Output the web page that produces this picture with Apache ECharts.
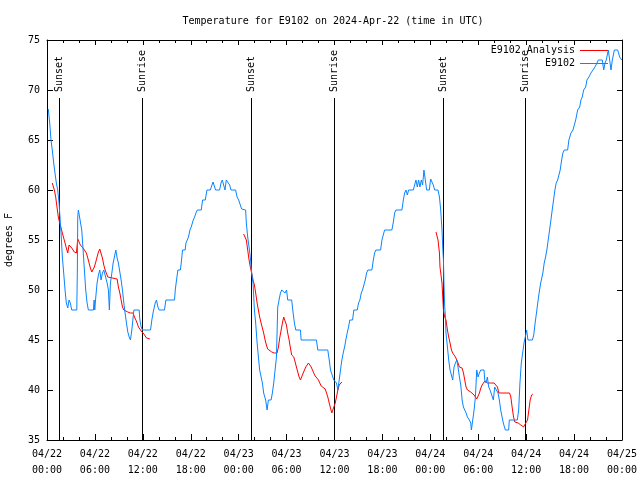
<!DOCTYPE html>
<html>
<head>
<meta charset="utf-8">
<script src="https://cdn.jsdelivr.net/npm/echarts@6/dist/echarts.min.js"></script>
<style>html,body{margin:0;padding:0;background:#fff}#c{width:640px;height:480px}</style>
</head>
<body>
<div id="c"></div>
<script>
// hours since 2024-04-22 00:00 UTC, temperature in degrees F
const xTickLabels = ['04/22\n00:00','04/22\n06:00','04/22\n12:00','04/22\n18:00','04/23\n00:00','04/23\n06:00','04/23\n12:00','04/23\n18:00','04/24\n00:00','04/24\n06:00','04/24\n12:00','04/24\n18:00','04/25\n00:00'];
const yTickLabels = ['35','40','45','50','55','60','65','70','75'];
const sunHours = [1.54, 11.93, 25.55, 35.92, 49.62, 59.9];
const sunLabels = ['Sunset','Sunrise','Sunset','Sunrise','Sunset','Sunrise'];

const observed = [
[0.16,68.1],[0.34,66.7],[0.50,65.0],[0.66,64.0],[0.84,62.7],[1.00,61.7],[1.17,60.7],[1.34,60.0],[1.51,58.7],[1.59,57.7],
[1.76,55.7],[1.92,53.3],[2.09,51.7],[2.26,50.0],[2.42,48.7],[2.60,48.2],[2.76,49.0],[2.92,48.7],[3.10,48.0],[3.73,48.0],
[3.80,52.0],[3.85,57.3],[3.93,58.0],[4.18,58.0],[4.35,56.0],[4.52,54.0],[4.68,52.0],[4.85,50.0],[5.02,48.7],[5.18,48.0],
[5.81,48.0],[5.90,49.0],[5.98,48.0],[6.11,49.3],[6.27,50.7],[6.44,51.5],[6.61,52.0],[6.77,51.0],[6.94,51.7],[7.11,52.0],
[7.36,51.8],[7.53,50.7],[7.69,50.0],[7.81,48.0],[7.94,50.7],[8.12,51.7],[8.28,52.7],[8.44,53.3],[8.62,54.0],[8.78,53.2],
[8.94,52.7],[9.12,51.8],[9.28,51.0],[9.45,50.0],[9.62,48.7],[9.78,47.7],[9.95,46.7],[10.12,45.8],[10.29,45.3],[10.45,45.0],
[10.62,46.0],[10.79,47.3],[10.88,48.0],[11.54,48.0],[11.63,47.0],[11.79,46.3],[11.95,46.0],[12.96,46.0],[13.13,47.0],[13.30,47.8],
[13.55,48.7],[13.71,49.0],[13.89,48.3],[14.05,48.0],[14.71,48.0],[14.89,49.0],[15.97,49.0],[16.06,50.0],[16.22,51.0],[16.39,52.0],
[16.70,52.0],[16.81,52.7],[16.97,54.0],[17.30,54.0],[17.40,54.7],[17.56,55.0],[17.72,55.3],[17.90,56.0],[18.06,56.3],[18.31,57.0],
[18.48,57.3],[18.65,57.7],[18.82,58.0],[19.32,58.0],[19.48,59.0],[19.82,59.0],[20.03,60.0],[20.45,60.0],[20.79,60.8],[20.95,61.0],
[21.11,60.0],[21.61,60.0],[21.79,60.7],[21.95,61.0],[22.12,60.5],[22.29,60.0],[22.45,61.0],[22.70,61.0],[22.87,60.5],[23.04,60.0],
[23.62,60.0],[23.80,59.3],[24.00,59.0],[24.21,59.0],[24.37,58.1],[24.87,58.0],[24.96,56.7],[25.13,55.3],[25.30,54.3],[25.46,53.3],
[25.63,51.7],[25.80,50.7],[25.97,48.0],[26.13,46.7],[26.31,44.7],[26.47,43.3],[26.63,42.0],[26.81,41.3],[26.97,40.7],[27.13,39.7],
[27.38,39.0],[27.56,38.0],[27.72,39.0],[28.06,39.0],[28.22,39.7],[28.39,40.7],[28.56,42.0],[28.73,43.3],[28.89,48.3],[29.06,49.0],
[29.23,49.7],[29.39,50.0],[29.60,50.0],[29.80,49.7],[30.00,50.0],[30.14,49.0],[30.64,49.0],[30.82,47.7],[30.98,46.7],[31.15,46.0],
[31.74,46.0],[31.82,45.0],[33.74,45.0],[33.91,44.0],[35.16,44.0],[35.34,43.0],[35.50,42.0],[35.75,42.0],[35.91,41.0],[36.10,41.0],
[36.25,40.7],[36.42,40.0],[36.59,41.0],[36.75,42.0],[36.92,43.0],[37.09,43.7],[37.26,44.3],[37.42,45.0],[37.59,45.7],[37.76,46.3],
[37.92,47.0],[38.26,47.0],[38.42,48.0],[38.85,48.0],[39.01,48.7],[39.18,49.0],[39.35,49.7],[39.51,50.0],[39.68,50.0],[39.85,51.0],
[40.02,51.7],[40.18,52.0],[40.68,52.0],[40.86,53.0],[41.02,53.7],[41.18,54.0],[41.77,54.0],[41.94,55.0],[42.10,55.2],[42.27,56.0],
[43.19,56.0],[43.37,56.8],[43.53,57.7],[43.69,58.0],[44.44,58.0],[44.62,59.0],[44.78,59.7],[44.95,60.0],[45.12,59.5],[45.28,60.0],
[45.87,60.0],[46.03,60.5],[46.20,61.0],[46.37,60.3],[46.53,61.0],[46.70,60.3],[46.87,61.0],[47.03,60.5],[47.20,62.0],[47.37,61.0],
[47.54,60.0],[47.87,60.0],[48.04,61.1],[48.20,61.0],[48.37,60.5],[48.55,60.0],[48.96,60.0],[49.14,59.3],[49.30,58.0],[49.46,56.0],
[49.55,54.3],[49.64,53.0],[49.71,50.5],[49.80,48.3],[49.89,47.3],[49.96,45.7],[50.14,44.3],[50.30,43.0],[50.47,42.0],[50.64,42.0],
[50.80,41.0],[50.97,42.3],[51.14,42.7],[51.31,43.0],[51.47,42.3],[51.64,41.3],[51.81,40.5],[51.98,39.0],[52.14,38.3],[52.31,38.0],
[52.48,37.7],[52.64,37.3],[52.89,37.0],[53.06,36.7],[53.14,36.0],[53.31,37.0],[53.48,38.0],[53.64,39.3],[53.73,40.7],[53.81,42.0],
[53.98,41.3],[54.14,41.7],[54.31,42.0],[54.72,42.0],[54.81,41.0],[54.98,40.7],[55.14,41.3],[55.31,40.3],[55.48,40.0],[55.73,40.0],
[55.89,39.0],[56.06,40.3],[56.31,40.3],[56.48,39.7],[56.64,39.0],[56.81,38.0],[56.98,37.3],[57.14,36.7],[57.39,36.0],[57.81,36.0],
[57.89,37.0],[58.89,37.0],[59.06,38.0],[59.22,40.7],[59.39,42.7],[59.56,43.7],[59.73,44.7],[59.89,45.3],[60.06,46.0],[60.22,45.0],
[60.78,45.0],[60.95,45.5],[61.12,46.7],[61.29,47.7],[61.45,48.7],[61.62,49.7],[61.82,50.7],[62.09,51.7],[62.26,52.7],[62.43,53.3],
[62.59,54.0],[62.76,55.0],[62.93,56.0],[63.10,57.0],[63.26,58.0],[63.43,59.0],[63.60,60.0],[63.76,60.7],[63.94,61.0],[64.26,62.0],
[64.44,63.0],[64.60,63.7],[64.77,64.0],[65.19,64.0],[65.35,65.0],[65.61,65.7],[65.86,66.0],[66.02,66.0],[66.20,67.0],[66.45,68.0],
[66.70,68.3],[66.86,69.0],[67.02,69.3],[67.20,70.0],[67.45,70.3],[67.61,71.0],[67.86,71.3],[68.11,71.7],[68.36,72.0],[68.61,72.3],
[68.87,72.7],[69.03,73.0],[69.53,73.0],[69.71,72.0],[69.87,72.7],[70.03,73.0],[70.21,73.7],[70.28,74.0],[70.46,73.0],[70.62,72.0],
[70.79,73.0],[71.04,74.0],[71.46,74.0],[71.71,73.3],[71.97,73.0]
];

const analysis1 = [
[0.66,60.7],[0.92,60.0],[1.09,59.3],[1.25,58.3],[1.42,57.3],[1.59,56.7],[1.76,56.2],[1.92,55.7],[2.09,55.2],[2.26,54.7],
[2.42,54.2],[2.60,53.7],[2.76,54.5],[3.10,54.2],[3.42,53.8],[3.68,53.7],[3.85,55.1],[4.18,54.5],[4.52,54.2],[4.77,54.2],
[4.93,53.7],[5.11,53.2],[5.27,52.7],[5.43,52.2],[5.61,51.8],[5.77,51.8],[5.93,52.3],[6.11,52.8],[6.27,53.3],[6.44,53.8],
[6.61,54.1],[6.77,54.1],[6.94,53.2],[7.11,52.5],[7.28,52.0],[7.61,51.3],[7.78,51.1],[8.78,51.1],[8.94,50.3],[9.12,49.7],
[9.28,49.0],[9.45,48.3],[9.62,48.0],[10.12,47.8],[10.45,47.7],[10.79,47.7],[10.95,47.3],[11.13,47.0],[11.29,46.7],[11.45,46.3],
[11.63,46.2],[11.79,45.9],[11.95,45.7],[12.13,45.6],[12.29,45.4],[12.46,45.2],[12.63,45.1],[12.88,45.1]
];
const analysis2 = [
[24.62,55.6],[24.87,55.6],[24.96,55.0],[25.13,54.0],[25.30,53.0],[25.46,52.3],[25.63,51.7],[25.80,51.0],[25.97,50.5],[26.13,49.7],
[26.31,48.7],[26.47,48.0],[26.63,47.3],[26.81,46.7],[26.97,46.2],[27.13,45.7],[27.31,45.0],[27.47,44.5],[27.63,44.1],[28.14,43.8],
[28.47,43.7],[28.81,43.7],[28.98,44.3],[29.14,45.2],[29.32,46.0],[29.48,46.7],[29.64,47.3],[29.82,47.3],[29.98,46.5],[30.14,45.7],
[30.32,45.0],[30.48,44.2],[30.64,43.5],[30.90,43.3],[31.07,42.8],[31.23,42.3],[31.40,41.8],[31.57,41.3],[31.74,41.0],[32.08,41.7],
[32.24,42.0],[32.40,42.3],[32.74,42.7],[32.90,42.6],[33.08,42.3],[33.24,42.0],[33.40,41.7],[33.58,41.4],[33.83,41.3],[33.99,41.0],
[34.16,40.7],[34.33,40.4],[34.50,40.2],[34.83,40.1],[35.00,39.7],[35.16,39.3],[35.34,38.7],[35.50,38.2],[35.66,37.7],[35.91,37.5],
[36.09,38.7],[36.25,39.3],[36.42,40.0],[36.59,40.5],[36.75,40.7],[36.92,40.8]
];
const analysis3 = [
[48.71,55.8],[48.92,55.8],[48.96,55.0],[49.14,53.7],[49.21,52.3],[49.30,52.3],[49.46,50.7],[49.64,48.0],[49.80,47.3],[49.96,47.0],
[50.14,46.0],[50.30,45.3],[50.47,44.7],[50.64,44.0],[50.80,43.7],[50.97,43.7],[51.14,43.3],[51.31,43.0],[51.47,42.7],[51.64,42.3],
[51.97,42.2],[52.15,41.7],[52.31,41.0],[52.47,40.3],[52.65,40.0],[53.06,39.8],[53.23,39.7],[53.48,39.5],[53.65,39.3],[53.81,39.1],
[53.98,39.4],[54.15,39.7],[54.32,40.2],[54.48,40.5],[54.65,40.7],[54.82,40.9],[55.16,40.7],[55.57,40.7],[55.99,40.7],[56.41,40.3],
[56.57,39.7],[56.82,39.7],[57.49,39.7],[57.92,39.7],[58.08,39.3],[58.24,38.3],[58.42,37.3],[58.58,36.8],[59.00,36.7],[59.33,36.5],
[59.67,36.3],[59.92,36.2],[60.17,37.0],[60.34,38.0],[60.50,39.0],[60.68,39.5],[60.84,39.6]
];

const FONT = 'DejaVu Sans Mono';
const RED = '#ff0000';
const BLUE = '#0a84ff';
const chart = echarts.init(document.getElementById('c'), null, {renderer: 'canvas'});

const xBase = {
  type: 'value', min: 0, max: 72, interval: 6,
  splitLine: {show: false},
  axisLine: {show: true, onZero: false, lineStyle: {color: '#000', width: 1}},
  axisTick: {show: true, inside: true, length: 6, lineStyle: {color: '#000'}},
  minorTick: {show: true, splitNumber: 3, length: 3, lineStyle: {color: '#000'}},
  minorSplitLine: {show: false}
};
const yBase = {
  type: 'value', min: 35, max: 75, interval: 5,
  splitLine: {show: false},
  axisLine: {show: true, onZero: false, lineStyle: {color: '#000', width: 1}},
  axisTick: {show: true, inside: true, length: 6, lineStyle: {color: '#000'}}
};
const lineBase = {type: 'line', showSymbol: false, symbol: 'none', animation: false, lineStyle: {width: 1}, z: 3};

chart.setOption({
  animation: false,
  backgroundColor: '#fff',
  title: {
    text: 'Temperature for E9102 on 2024-Apr-22 (time in UTC)',
    left: 333, top: 16, textAlign: 'center', padding: 0,
    textStyle: {fontFamily: FONT, fontSize: 10, fontWeight: 'normal', color: '#000'}
  },
  grid: {left: 47, right: 18, top: 40, bottom: 40, containLabel: false, outerBoundsMode: 'none'},
  legend: {
    data: ['E9102 Analysis', 'E9102'],
    orient: 'vertical', align: 'right', right: 32, top: 44, padding: 0, itemGap: 0,
    icon: 'rect', itemWidth: 28, itemHeight: 1,
    textStyle: {fontFamily: FONT, fontSize: 10, color: '#000', lineHeight: 13},
    selectedMode: false
  },
  xAxis: [
    Object.assign({}, xBase, {position: 'bottom',
      axisLabel: {show: true, margin: 6, color: '#000', fontFamily: FONT, fontSize: 10, lineHeight: 16,
        showMinLabel: true, showMaxLabel: true, hideOverlap: false,
        formatter: v => xTickLabels[Math.round(v / 6)]}}),
    Object.assign({}, xBase, {position: 'top', axisLabel: {show: false}, axisTick: {show: true, inside: true, length: 5, lineStyle: {color: '#000'}}})
  ],
  yAxis: [
    Object.assign({}, yBase, {position: 'left',
      name: 'degrees F', nameLocation: 'middle', nameGap: 33, nameRotate: 90,
      nameTextStyle: {fontFamily: FONT, fontSize: 10, color: '#000'},
      axisLabel: {show: true, margin: 7, color: '#000', fontFamily: FONT, fontSize: 10,
        formatter: v => yTickLabels[Math.round((v - 35) / 5)]}}),
    Object.assign({}, yBase, {position: 'right', axisLabel: {show: false}, axisTick: {show: true, inside: true, length: 5, lineStyle: {color: '#000'}}})
  ],
  series: [
    {
      type: 'custom', name: 'sun', xAxisIndex: 0, yAxisIndex: 0, z: 1, silent: true,
      data: sunHours.map(h => [h, 35]),
      encode: {x: 0, y: 1},
      renderItem: function (params, api) {
        const x = Math.round(api.coord([api.value(0), 35])[0]) + 0.5;
        const yB = api.coord([0, 35])[1];
        const yT = api.coord([0, 69.2])[1];
        return {
          type: 'group',
          children: [
            {type: 'line', shape: {x1: x, y1: yT, x2: x, y2: yB}, style: {stroke: '#000', lineWidth: 1}},
            {type: 'text', x: x, y: yT - 6, rotation: Math.PI / 2,
              style: {text: sunLabels[params.dataIndex], fill: '#000', font: '10px ' + FONT, align: 'left', verticalAlign: 'middle'}}
          ]
        };
      }
    },
    Object.assign({}, lineBase, {name: 'E9102 Analysis', data: analysis1, color: RED, lineStyle: {width: 1, color: RED}}),
    Object.assign({}, lineBase, {name: 'E9102 Analysis', data: analysis2, color: RED, lineStyle: {width: 1, color: RED}}),
    Object.assign({}, lineBase, {name: 'E9102 Analysis', data: analysis3, color: RED, lineStyle: {width: 1, color: RED}}),
    Object.assign({}, lineBase, {name: 'E9102', data: observed, color: BLUE, lineStyle: {width: 1, color: BLUE}, z: 4})
  ]
});
</script>
</body>
</html>
